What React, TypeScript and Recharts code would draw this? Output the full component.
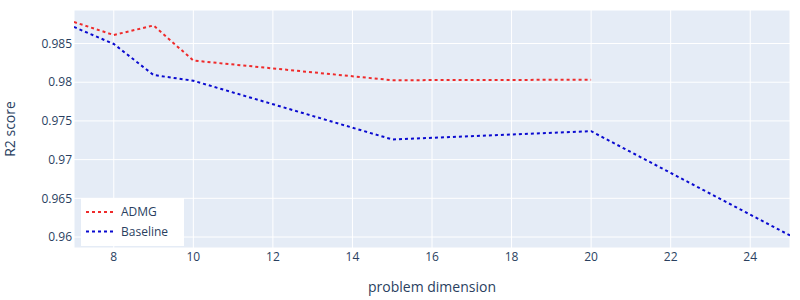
import React from 'react';
import { LineChart, Line, XAxis, YAxis, CartesianGrid, Legend } from 'recharts';

const dimensions = [7, 8, 9, 10, 15, 20, 25];
const admg: (number | null)[] = [0.98778, 0.9861, 0.98733, 0.9828, 0.98026, 0.98032, null];
const baseline = [0.98713, 0.98494, 0.98093, 0.98019, 0.97261, 0.97367, 0.9602];
const xTicks = [8, 10, 12, 14, 16, 18, 20, 22, 24];
const yTicks = [0.96, 0.965, 0.97, 0.975, 0.98, 0.985];

const seriesNames = ['ADMG', 'Baseline'];
const seriesColors = ['#ef2b2b', '#0a0ad0'];

const data = dimensions.map((d, i) => ({ x: d, ADMG: admg[i], Baseline: baseline[i] }));

const FONT = '"Open Sans", "Liberation Sans", sans-serif';
const TEXT = '#2a3f5f';

const LegendBox = () => (
  <svg width={103} height={48} style={{ display: 'block' }}>
    <rect x={0} y={0} width={103} height={48} fill="#ffffff" />
    {seriesNames.map((n, i) => (
      <g key={n}>
        <line x1={5} x2={35} y1={14 + i * 19.5} y2={14 + i * 19.5} stroke={seriesColors[i]} strokeWidth={2} strokeDasharray="3 3" />
        <text x={40} y={14 + i * 19.5} dy="0.36em" fontSize={12} fill={TEXT} fontFamily={FONT}>{n}</text>
      </g>
    ))}
  </svg>
);

export default function App() {
  return (
    <div style={{ position: 'absolute', left: 0, top: 0, width: 800, height: 300, background: '#fff', fontFamily: FONT }}>
      <LineChart width={800} height={300} data={data} margin={{ top: 10, right: 10, bottom: 8, left: 0 }}>
        <CartesianGrid fill="#E5ECF6" stroke="#ffffff" strokeWidth={1} />
        <XAxis
          dataKey="x"
          type="number"
          domain={[7, 25]}
          ticks={xTicks}
          allowDataOverflow
          axisLine={false}
          tickLine={false}
          tickSize={0}
          tickMargin={4}
          height={44}
          tick={{ fill: TEXT, fontSize: 12, fontFamily: FONT }}
          label={{ value: 'problem dimension', position: 'insideBottom', offset: 0, fill: TEXT, fontSize: 14, fontFamily: FONT }}
        />
        <YAxis
          type="number"
          domain={[0.95858, 0.98933]}
          ticks={yTicks}
          allowDataOverflow
          axisLine={false}
          tickLine={false}
          tickSize={0}
          tickMargin={2}
          width={74}
          tick={{ fill: TEXT, fontSize: 12, fontFamily: FONT }}
          label={{ value: 'R2 score', angle: -90, position: 'insideLeft', offset: 10, fill: TEXT, fontSize: 14, fontFamily: FONT, style: { textAnchor: 'middle' } }}
        />
        <Legend
          layout="vertical"
          align="center"
          verticalAlign="middle"
          content={() => <LegendBox />}
          wrapperStyle={{ left: 81, top: 198, width: 103, height: 48 }}
        />
        {seriesNames.map((n, i) => (
          <Line
            key={n}
            dataKey={n}
            type="linear"
            stroke={seriesColors[i]}
            strokeWidth={2}
            strokeDasharray="3 3"
            dot={false}
            activeDot={false}
            isAnimationActive={false}
          />
        ))}
      </LineChart>
    </div>
  );
}
